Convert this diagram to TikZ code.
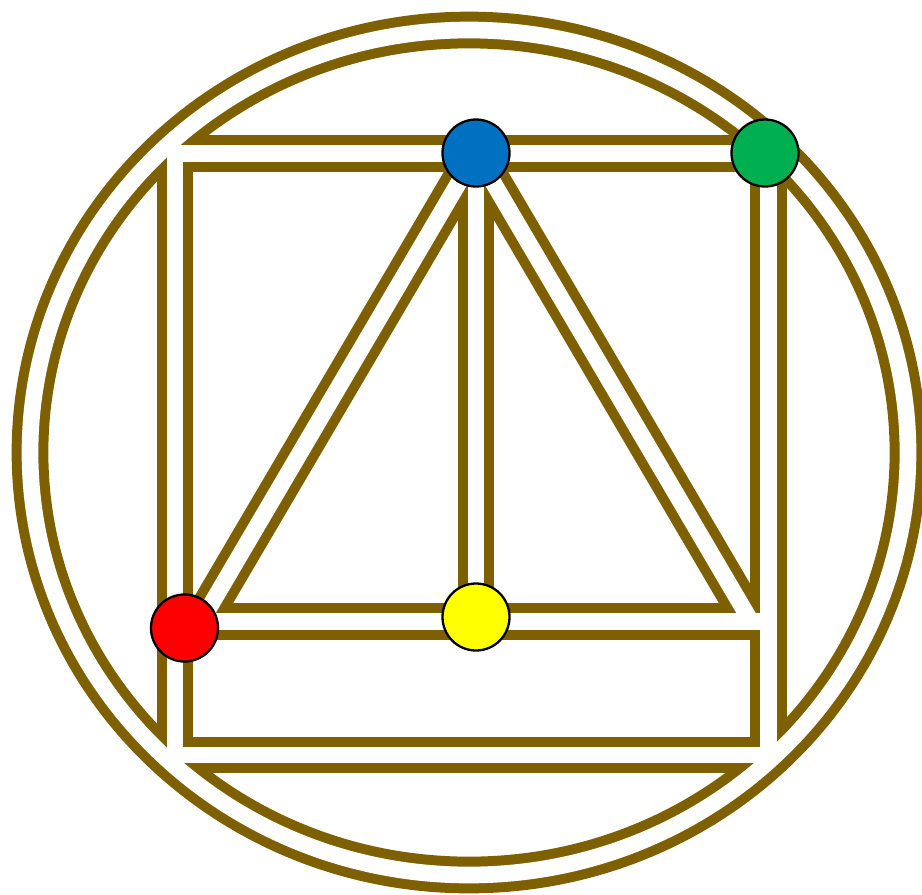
\documentclass[tikz,border=0pt]{standalone}
\usepackage{tikz}

\definecolor{railbrown}{RGB}{127,96,0}
\definecolor{stopred}{RGB}{255,0,0}
\definecolor{stopyellow}{RGB}{255,255,0}
\definecolor{stopblue}{RGB}{0,112,192}
\definecolor{stopgreen}{RGB}{0,176,80}

\tikzset{
	railbed/.style={draw=railbrown, line width=36.7pt},
	railgap/.style={draw=white, line width=16.7pt},
	stop/.style={circle, draw=black, line width=2.3pt, minimum size=67pt, inner sep=0pt},
}

% the ring and the inner tracks, drawn once per pass so the tubes merge
\newcommand\railring[1]{\draw[#1] (469,452.5) ellipse [x radius=439, y radius=422.5];}
\newcommand\railnet[1]{%
	\draw[#1] (tl) -- (tr) -- (br) -- (bl) -- cycle;
	\draw[#1] (ml) -- (mr);
	\draw[#1] (tm) -- (mm);
	\draw[#1] (tm) -- (dl);
	\draw[#1] (tm) -- (dr);
}

\begin{document}
\begin{tikzpicture}[x=1pt, y=-1pt]
	\useasboundingbox (0,0) rectangle (922,895);
	\coordinate (tl) at (175,153.3);
	\coordinate (tr) at (768.5,153.3);
	\coordinate (br) at (768.5,755);
	\coordinate (bl) at (175,755);
	\coordinate (ml) at (175,621.5);
	\coordinate (mr) at (768.5,621.5);
	\coordinate (tm) at (476,153.3);
	\coordinate (mm) at (476,621.5);
	\coordinate (dl) at (201,621.5);
	\coordinate (dr) at (751,621.5);
	\railring{railbed}
	\begin{scope}
		\clip (469,452.5) ellipse [x radius=451, y radius=434.5];
		\railnet{railbed}
	\end{scope}
	\railring{railgap}
	\railnet{railgap}
	\node[stop, fill=stopred] (redstop) at (184.5,628) {};
	\node[stop, fill=stopyellow] (yellowstop) at (476,617) {};
	\node[stop, fill=stopblue] (bluestop) at (476,153) {};
	\node[stop, fill=stopgreen] (greenstop) at (765,153) {};
\end{tikzpicture}
\end{document}
